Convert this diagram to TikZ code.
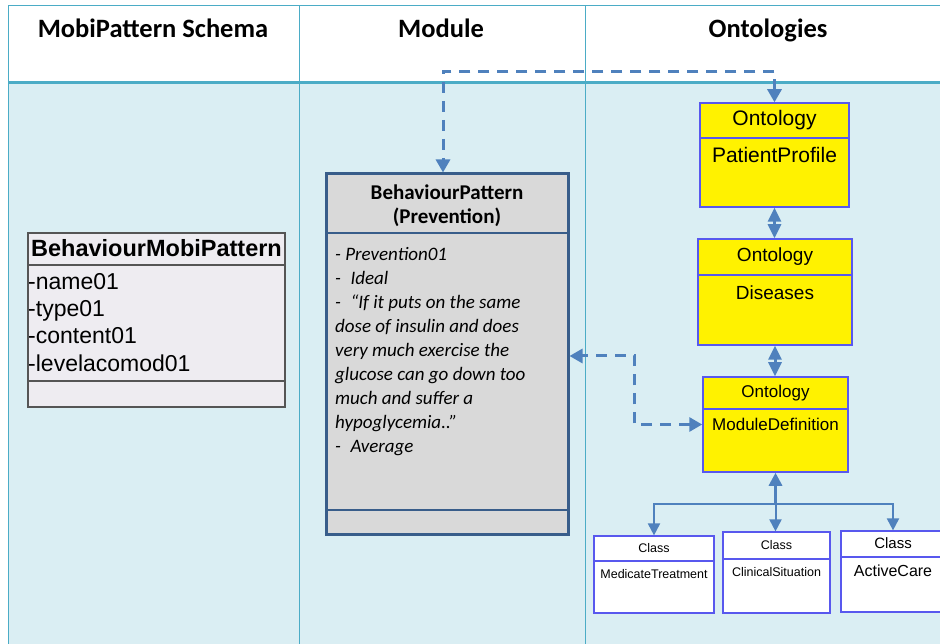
\documentclass[tikz,border=0pt]{standalone}
\usepackage{fontspec}
\setmainfont{Carlito}
\newfontfamily\arialfont{Liberation Sans}
\usetikzlibrary{arrows.meta}

\definecolor{laneline}{HTML}{4BACC6}
\definecolor{lanefill}{HTML}{DAEEF3}
\definecolor{linkblue}{HTML}{4F81BD}
\definecolor{patternframe}{HTML}{385D8A}
\definecolor{patternfill}{HTML}{D9D9D9}
\definecolor{ontframe}{HTML}{5858EE}
\definecolor{mobifill}{HTML}{EEECF1}
\definecolor{mobiframe}{HTML}{555555}

\tikzset{
  lanehead/.style={anchor=base, font=\fontsize{26.5}{30}\selectfont\bfseries},
  ontbox/.style={draw=ontframe, fill=yellow, line width=1.5pt, inner sep=0pt},
  classbox/.style={draw=ontframe, fill=white, line width=1.2pt, inner sep=0pt},
  dashlink/.style={linkblue, line width=3pt, dash pattern=on 11pt off 8pt,
    {Triangle[width=14pt,length=13pt]}-{Triangle[width=14pt,length=13pt]}},
  dbllink/.style={linkblue, line width=3pt,
    {Triangle[width=13pt,length=14pt]}-{Triangle[width=13pt,length=14pt]}},
  treelink/.style={linkblue, line width=2pt, -{Triangle[width=12pt,length=12pt]}}
}

\begin{document}
\begin{tikzpicture}[x=1pt,y=-1pt]
\useasboundingbox (0,0) rectangle (940,644);

% lanes
\fill[lanefill] (8,83) rectangle (940,644);
\draw[laneline,line width=1pt] (8,644) -- (8,6) -- (940,6);
\draw[laneline,line width=1pt] (299,6) -- (299,644);
\draw[laneline,line width=1pt] (585,6) -- (585,644);
\draw[laneline,line width=3.5pt] (8,82.5) -- (940,82.5);
\node[lanehead] (hschema) at (153,38) {MobiPattern Schema};
\node[lanehead] (hmodule) at (441,38) {Module};
\node[lanehead] (hont) at (768,38) {Ontologies};

% schema class
\node[draw=mobiframe, fill=mobifill, line width=1.2pt, minimum width=257pt,
  minimum height=174pt, inner sep=0pt] (mobi) at (156.5,320) {};
\draw[mobiframe,line width=1.2pt] (28,265) -- (285,265);
\draw[mobiframe,line width=1.2pt] (28,381) -- (285,381);
\node[anchor=base, font=\arialfont\fontsize{23.5}{27}\selectfont\bfseries] (mobititle)
  at (156.5,257) {BehaviourMobiPattern};
\foreach \attr [count=\i] in {name01,type01,content01,levelacomod01}
  \node[anchor=base west, inner sep=0pt, font=\arialfont\fontsize{23}{27}\selectfont]
    at (28,263+27*\i) {-\attr};

% module
\node[draw=patternframe, fill=patternfill, line width=3pt, minimum width=242pt,
  minimum height=360pt, inner sep=0pt] (pattern) at (447,354) {};
\draw[patternframe,line width=2.5pt] (326,233) -- (568,233);
\draw[patternframe,line width=2.5pt] (326,510) -- (568,510);
\node[align=center, font=\fontsize{21}{24}\selectfont\bfseries] (patterntitle) at (447,206)
  {BehaviourPattern\\(Prevention)};
\node[anchor=north west, align=left, inner sep=0pt,
  font=\fontsize{19}{24}\selectfont\itshape] (patternbody) at (335,247.5)
  {- Prevention01\\
   -\enspace Ideal\\
   -\enspace ``If it puts on the same\\
   dose of insulin and does\\
   very much exercise the\\
   glucose can go down too\\
   much and suffer a\\
   hypoglycemia..''\\
   -\enspace Average};

% ontologies
\node[ontbox, minimum width=149pt, minimum height=104pt] (patient) at (774.5,155) {};
\draw[ontframe,line width=1.5pt] (700,138) -- (849,138);
\node[font=\arialfont\fontsize{21}{24}\selectfont] at (774.5,120.5) {Ontology};
\node[font=\arialfont\fontsize{21}{24}\selectfont] at (774.5,155) {PatientProfile};

\node[ontbox, minimum width=154pt, minimum height=106pt] (diseases) at (775,292) {};
\draw[ontframe,line width=1.5pt] (698,275) -- (852,275);
\node[font=\arialfont\fontsize{19}{23}\selectfont] at (775,257) {Ontology};
\node[font=\arialfont\fontsize{19}{23}\selectfont] at (775,293) {Diseases};

\node[ontbox, minimum width=145pt, minimum height=95pt] (moddef) at (775.5,424.5) {};
\draw[ontframe,line width=1.5pt] (703,409) -- (848,409);
\node[font=\arialfont\fontsize{17}{20}\selectfont] at (775.5,393) {Ontology};
\node[font=\arialfont\fontsize{17}{20}\selectfont] at (775.5,424) {ModuleDefinition};

% classes
\node[classbox, minimum width=120pt, minimum height=77pt] (medic) at (654,574.5) {};
\draw[ontframe,line width=1.2pt] (594,561) -- (714,561);
\node[font=\arialfont\fontsize{12.5}{15}\selectfont] at (654,548) {Class};
\node[font=\arialfont\fontsize{12.5}{15}\selectfont] at (654,574) {MedicateTreatment};

\node[classbox, minimum width=107pt, minimum height=81pt] (clinical) at (776.5,572.5) {};
\draw[ontframe,line width=1.2pt] (723,559) -- (830,559);
\node[font=\arialfont\fontsize{12.5}{15}\selectfont] at (776.5,545) {Class};
\node[font=\arialfont\fontsize{12.5}{15}\selectfont] at (776.5,572) {ClinicalSituation};

\node[classbox, minimum width=104pt, minimum height=81pt] (active) at (893,571.5) {};
\draw[ontframe,line width=1.2pt] (841,557) -- (945,557);
\node[font=\arialfont\fontsize{15}{18}\selectfont] at (893,543) {Class};
\node[font=\arialfont\fontsize{16}{19}\selectfont] at (893,571) {ActiveCare};

% links
\draw[dashlink] (patient.north) -- ++(0,-31) -| ([xshift=-4pt]pattern.north);
\draw[dashlink] (moddef.west) -- ++(-68,0) |- ([yshift=-2pt]pattern.east);
\draw[dbllink] (patient.south) -- (patient.south |- diseases.north);
\draw[dbllink] (diseases.south) -- (diseases.south |- moddef.north);
\draw[linkblue, line width=3pt, {Triangle[width=13pt,length=13pt]}-] (moddef.south) -- ++(0,31) coordinate (fork);
\draw[treelink] (fork) -| (medic.north);
\draw[treelink] (fork) -- (fork |- clinical.north);
\draw[treelink] (fork) -| (active.north);
\end{tikzpicture}
\end{document}
